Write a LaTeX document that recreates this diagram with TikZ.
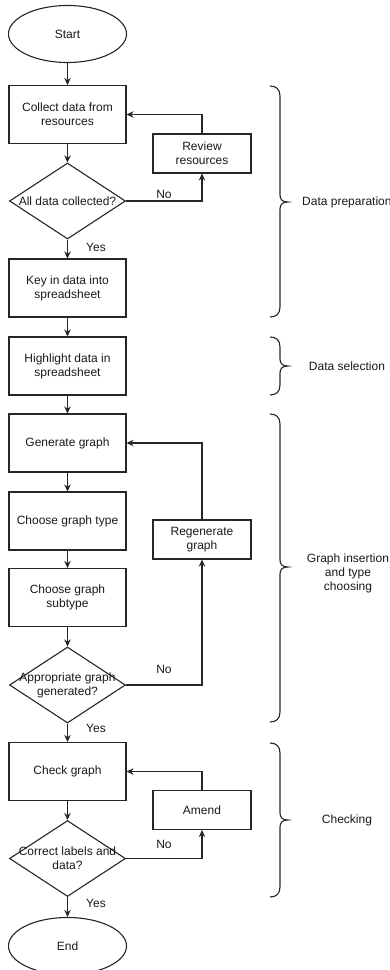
\documentclass[tikz,border=0pt]{standalone}
\usepackage{fontspec}
\setmainfont{Liberation Sans}
\usetikzlibrary{shapes.geometric,arrows.meta}
\newcommand\sidebrace[3]{%
  \draw[ln] (270,#1) .. controls (276,#1) and (280,{#1+3}) .. (280,{#1+10})
    -- (280,{#2-7}) .. controls (280,{#2-2}) and (283,#2) .. (288,#2)
    .. controls (283,#2) and (280,{#2+2}) .. (280,{#2+7})
    -- (280,{#3-10}) .. controls (280,{#3-3}) and (276,#3) .. (270,#3);}
\begin{document}
\begin{tikzpicture}[x=1pt,y=-1pt,
  every node/.style={font=\fontsize{12}{14}\selectfont, text=black!90},
  ln/.style={draw=black!85, line width=1.1pt},
  arr/.style={ln, -{Stealth[length=7pt,width=6.5pt]}},
  box/.style={ln, rectangle, minimum width=117pt, minimum height=58pt, align=center, inner sep=0pt},
  sidebox/.style={ln, rectangle, minimum width=98pt, minimum height=39pt, align=center, inner sep=0pt},
  dia/.style={ln, diamond, minimum width=116pt, minimum height=76pt, inner sep=0pt},
  term/.style={ln, ellipse, minimum width=118pt, minimum height=57pt, inner sep=0pt},
  lbl/.style={inner sep=0pt, align=center}]
\useasboundingbox (0,0) rectangle (390,970);

\node[term] (start) at (67.5,34) {Start};
\node[box] (collect) at (67.5,114.5) {Collect data from\\resources};
\node[dia] (d1) at (67.5,201) {};
\node[lbl] at (d1.center) {All data collected?};
\node[box] (key) at (67.5,288) {Key in data into\\spreadsheet};
\node[box] (high) at (67.5,366) {Highlight data in\\spreadsheet};
\node[box] (gen) at (67.5,443) {Generate graph};
\node[box] (type) at (67.5,521) {Choose graph type};
\node[box] (sub) at (67.5,597.5) {Choose graph\\subtype};
\node[dia] (d2) at (67.5,685) {};
\node[lbl] at (d2.center) {Appropriate graph\\generated?};
\node[box] (check) at (67.5,771.5) {Check graph};
\node[dia] (d3) at (67.5,858.5) {};
\node[lbl] at (d3.center) {Correct labels and\\data?};
\node[term] (end) at (67.5,946) {End};

\node[sidebox] (review) at (202,153.5) {Review\\resources};
\node[sidebox] (regen) at (202,539.5) {Regenerate\\graph};
\node[sidebox] (amend) at (202,810) {Amend};

\draw[arr] (start) -- (collect);
\draw[arr] (collect) -- (d1);
\draw[arr] (d1) -- (key);
\draw[arr] (key) -- (high);
\draw[arr] (high) -- (gen);
\draw[arr] (gen) -- (type);
\draw[arr] (type) -- (sub);
\draw[arr] (sub) -- (d2);
\draw[arr] (d2) -- (check);
\draw[arr] (check) -- (d3);
\draw[arr] (d3) -- (end);

\draw[arr] (d1.east) -| (review.south);
\draw[arr] (review.north) |- (collect.east);
\draw[arr] (d2.east) -| (regen.south);
\draw[arr] (regen.north) |- (gen.east);
\draw[arr] (d3.east) -| (amend.south);
\draw[arr] (amend.north) |- (check.east);

\node[lbl] (no1) at (164,194) {No};
\node[lbl] (no2) at (164,669) {No};
\node[lbl] (no3) at (164,844) {No};
\node[lbl] (yes1) at (96,247) {Yes};
\node[lbl] (yes2) at (96,728) {Yes};
\node[lbl] (yes3) at (96,903) {Yes};

\sidebrace{86}{202}{317}
\sidebrace{337}{366}{395}
\sidebrace{414}{567}{722}
\sidebrace{743}{820}{897}

\node[lbl, anchor=west] (t1) at (302,202) {Data preparation};
\node[lbl] (t2) at (347,366) {Data selection};
\node[lbl] (t3) at (348,573) {Graph insertion\\and type\\choosing};
\node[lbl] (t4) at (347,820) {Checking};
\end{tikzpicture}
\end{document}
